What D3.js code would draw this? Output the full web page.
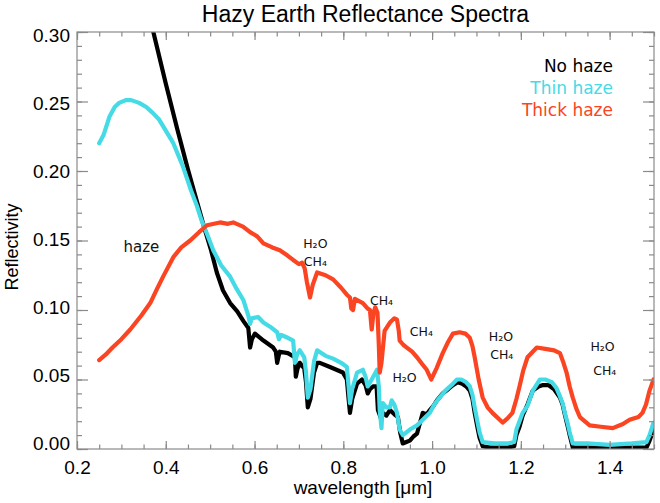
<!DOCTYPE html>
<html><head><meta charset="utf-8">
<script src="https://cdn.jsdelivr.net/npm/d3@7"></script>
<style>body{margin:0;background:#fff}svg{display:block}</style>
</head><body>
<svg id="c" width="660" height="503"></svg>
<script>
// ---- data ----
const noHazeWl=[0.350,0.372,0.400,0.426,0.450,0.486,0.502,0.515,0.529,0.545,0.561,0.575,0.586,0.590,0.594,0.601,0.620,0.642,0.648,0.651,0.655,0.657,0.675,0.691,0.693,0.697,0.702,0.712,0.716,0.720,0.726,0.734,0.741,0.747,0.770,0.799,0.808,0.812,0.815,0.820,0.831,0.842,0.850,0.855,0.860,0.867,0.875,0.878,0.885,0.889,0.897,0.905,0.915,0.923,0.928,0.934,0.942,0.950,0.958,0.966,0.972,0.979,0.988,0.995,1.003,1.011,1.024,1.036,1.047,1.058,1.068,1.077,1.085,1.091,1.096,1.102,1.107,1.114,1.130,1.150,1.170,1.185,1.190,1.197,1.204,1.215,1.227,1.240,1.250,1.262,1.275,1.288,1.294,1.299,1.305,1.310,1.317,1.340,1.380,1.420,1.460,1.483,1.490,1.499];
const noHazeR=[0.330,0.300,0.263,0.230,0.201,0.160,0.143,0.127,0.114,0.105,0.099,0.092,0.087,0.073,0.079,0.083,0.078,0.073,0.070,0.062,0.068,0.070,0.069,0.066,0.052,0.058,0.062,0.058,0.048,0.030,0.036,0.055,0.062,0.062,0.059,0.055,0.050,0.036,0.026,0.036,0.047,0.050,0.046,0.040,0.043,0.045,0.045,0.028,0.022,0.026,0.024,0.028,0.025,0.023,0.012,0.004,0.005,0.006,0.009,0.011,0.018,0.026,0.025,0.028,0.031,0.035,0.040,0.043,0.046,0.048,0.047,0.045,0.042,0.036,0.026,0.016,0.008,0.002,0.001,0.001,0.001,0.002,0.010,0.016,0.024,0.032,0.042,0.045,0.046,0.046,0.043,0.037,0.032,0.025,0.017,0.010,0.001,0.001,0.001,0.001,0.001,0.001,0.006,0.014];

const thinWl=[0.250,0.260,0.273,0.285,0.295,0.310,0.322,0.340,0.356,0.370,0.385,0.400,0.417,0.430,0.439,0.457,0.470,0.480,0.495,0.507,0.525,0.545,0.560,0.575,0.586,0.590,0.594,0.608,0.620,0.635,0.651,0.655,0.660,0.675,0.687,0.691,0.696,0.702,0.712,0.716,0.720,0.726,0.734,0.741,0.760,0.777,0.795,0.808,0.812,0.815,0.820,0.831,0.844,0.850,0.855,0.864,0.876,0.880,0.882,0.886,0.889,0.897,0.905,0.909,0.915,0.921,0.927,0.934,0.942,0.950,0.966,0.979,0.995,1.005,1.017,1.030,1.047,1.056,1.066,1.077,1.085,1.091,1.096,1.102,1.107,1.114,1.140,1.170,1.185,1.190,1.197,1.204,1.215,1.227,1.243,1.255,1.270,1.280,1.288,1.294,1.299,1.305,1.310,1.317,1.350,1.400,1.450,1.483,1.490,1.499];
const thinR=[0.220,0.226,0.239,0.246,0.249,0.251,0.251,0.249,0.246,0.242,0.237,0.229,0.220,0.210,0.203,0.186,0.175,0.165,0.153,0.143,0.132,0.124,0.115,0.107,0.096,0.090,0.094,0.095,0.091,0.088,0.084,0.079,0.082,0.080,0.078,0.062,0.068,0.071,0.066,0.055,0.037,0.043,0.063,0.071,0.067,0.065,0.062,0.059,0.045,0.033,0.043,0.055,0.057,0.052,0.045,0.050,0.057,0.045,0.028,0.015,0.033,0.030,0.030,0.035,0.032,0.026,0.014,0.010,0.012,0.014,0.017,0.021,0.026,0.032,0.037,0.042,0.047,0.050,0.050,0.048,0.045,0.039,0.030,0.020,0.012,0.005,0.004,0.004,0.005,0.014,0.020,0.026,0.031,0.042,0.050,0.050,0.048,0.044,0.038,0.033,0.026,0.019,0.012,0.004,0.004,0.003,0.004,0.005,0.010,0.019];

const thickWl=[0.250,0.265,0.280,0.300,0.320,0.345,0.365,0.380,0.394,0.417,0.435,0.455,0.475,0.493,0.522,0.540,0.552,0.574,0.590,0.606,0.620,0.640,0.657,0.675,0.687,0.700,0.707,0.713,0.718,0.725,0.731,0.741,0.760,0.777,0.795,0.808,0.815,0.818,0.822,0.826,0.844,0.855,0.860,0.864,0.868,0.872,0.877,0.880,0.882,0.886,0.893,0.905,0.915,0.921,0.925,0.927,0.935,0.943,0.955,0.966,0.978,0.988,0.998,1.010,1.024,1.036,1.047,1.062,1.075,1.085,1.091,1.096,1.105,1.114,1.125,1.136,1.159,1.170,1.181,1.190,1.197,1.205,1.215,1.236,1.255,1.275,1.288,1.295,1.303,1.310,1.317,1.325,1.333,1.355,1.380,1.407,1.430,1.445,1.465,1.474,1.482,1.490,1.499];
const thickR=[0.064,0.068,0.073,0.079,0.086,0.096,0.105,0.115,0.124,0.138,0.145,0.150,0.156,0.161,0.163,0.162,0.163,0.160,0.156,0.153,0.148,0.145,0.143,0.139,0.136,0.133,0.134,0.130,0.120,0.109,0.118,0.127,0.125,0.122,0.116,0.111,0.109,0.101,0.100,0.108,0.105,0.101,0.100,0.086,0.098,0.102,0.098,0.075,0.055,0.062,0.085,0.091,0.094,0.093,0.085,0.078,0.075,0.073,0.070,0.066,0.061,0.057,0.050,0.058,0.069,0.077,0.083,0.084,0.083,0.080,0.074,0.066,0.050,0.037,0.030,0.026,0.019,0.022,0.026,0.036,0.045,0.056,0.066,0.073,0.072,0.071,0.069,0.063,0.055,0.045,0.037,0.029,0.023,0.017,0.016,0.015,0.018,0.021,0.023,0.026,0.032,0.042,0.050];

const xMajorTicks=[0.2,0.4,0.6,0.8,1.0,1.2,1.4];
const yMajorTicks=[0.00,0.05,0.10,0.15,0.20,0.25,0.30];
const seriesNames=["No haze","Thin haze","Thick haze"];
const annotations=[
  {t:"haze",w:0.345,r:0.145},
  {t:"H₂O",w:0.737,r:0.148},{t:"CH₄",w:0.737,r:0.135},
  {t:"CH₄",w:0.886,r:0.107},
  {t:"CH₄",w:0.976,r:0.085},
  {t:"H₂O",w:0.938,r:0.052},
  {t:"H₂O",w:1.155,r:0.081},{t:"CH₄",w:1.157,r:0.068},
  {t:"H₂O",w:1.384,r:0.074},{t:"CH₄",w:1.389,r:0.057}
];

// ---- chart ----
const svg=d3.select("#c");
const L=77,R=654,T=32,B=449;
const x=d3.scaleLinear().domain([0.2,1.5]).range([L,R]);
const y=d3.scaleLinear().domain([0,0.3]).range([B,T]);
const axisCol="#8a8a8a";
const tickFont="'Liberation Sans',Arial,Helvetica,sans-serif";
const textFont="'DejaVu Sans',sans-serif";

svg.append("clipPath").attr("id","plot").append("rect")
  .attr("x",L).attr("y",T).attr("width",R-L).attr("height",B-T);

const colors=["#000000","#45dbe6","#fb4422"];
const series=[[noHazeWl,noHazeR],[thinWl,thinR],[thickWl,thickR]];
const line=d3.line().x(d=>x(d[0])).y(d=>y(d[1]));
const lg=svg.append("g").attr("clip-path","url(#plot)");
series.forEach((s,i)=>{
  const pts=s[0].map((w,j)=>[w,s[1][j]]);
  lg.append("path").datum(pts).attr("d",line)
    .attr("fill","none").attr("stroke",colors[i]).attr("stroke-width",4.2)
    .attr("stroke-linejoin","round").attr("stroke-linecap","round");
});

// axes
const xMinor=d3.range(0.2,1.5001,0.05).map(v=>+v.toFixed(2));
const yMinor=d3.range(0,0.3001,0.01).map(v=>+v.toFixed(2));
function style(g){
  g.select(".domain").remove();
  g.selectAll(".tick line").attr("stroke",axisCol).attr("stroke-width",1.2);
  g.selectAll(".tick text").attr("fill","#000").attr("font-family",tickFont).attr("font-size",19);
}
svg.append("g").attr("transform",`translate(0,${B})`)
  .call(d3.axisBottom(x).tickValues(xMinor).tickSize(-4.5).tickFormat("")).call(style);
svg.append("g").attr("transform",`translate(0,${B})`)
  .call(d3.axisBottom(x).tickValues(xMajorTicks).tickSize(-8).tickPadding(12).tickFormat(d3.format(".1f"))).call(style);
svg.append("g").attr("transform",`translate(0,${T})`)
  .call(d3.axisTop(x).tickValues(xMinor).tickSize(-4.5).tickFormat("")).call(style);
svg.append("g").attr("transform",`translate(0,${T})`)
  .call(d3.axisTop(x).tickValues(xMajorTicks).tickSize(-8).tickFormat("")).call(style);
svg.append("g").attr("transform",`translate(${L},0)`)
  .call(d3.axisLeft(y).tickValues(yMinor).tickSize(-5).tickFormat("")).call(style);
const yl=svg.append("g").attr("transform",`translate(${L},0)`)
  .call(d3.axisLeft(y).tickValues(yMajorTicks).tickSize(-11).tickPadding(7).tickFormat(d3.format(".2f"))).call(style);
yl.selectAll(".tick text").attr("y",d=>-5.5+9*(d/0.3));
svg.append("g").attr("transform",`translate(${R},0)`)
  .call(d3.axisRight(y).tickValues(yMinor).tickSize(-5).tickFormat("")).call(style);
svg.append("g").attr("transform",`translate(${R},0)`)
  .call(d3.axisRight(y).tickValues(yMajorTicks).tickSize(-11).tickFormat("")).call(style);

svg.append("rect").attr("x",L).attr("y",T).attr("width",R-L).attr("height",B-T)
  .attr("fill","none").attr("stroke",axisCol).attr("stroke-width",1.2);

// titles
svg.append("text").attr("x",(L+R)/2).attr("y",22).attr("text-anchor","middle")
  .attr("font-family",tickFont).attr("font-size",23).text("Hazy Earth Reflectance Spectra");
svg.append("text").attr("x",363).attr("y",494).attr("text-anchor","middle")
  .attr("font-family",tickFont).attr("font-size",19).text("wavelength [μm]");
svg.append("text").attr("transform","translate(18,247) rotate(-90)").attr("text-anchor","middle")
  .attr("font-family",tickFont).attr("font-size",18).text("Reflectivity");

// legend
seriesNames.forEach((n,i)=>{
  svg.append("text").attr("x",613).attr("y",72+i*22).attr("text-anchor","end")
    .attr("font-family",textFont).attr("font-size",17).attr("fill",colors[i]).text(n);
});

// annotations
annotations.forEach(a=>{
  svg.append("text").attr("x",x(a.w)).attr("y",y(a.r)+5).attr("text-anchor","middle")
    .attr("font-family",textFont).attr("font-size",a.t==="haze"?15:12.5).attr("fill","#111")
    .text(a.t);
});
</script>
</body></html>
